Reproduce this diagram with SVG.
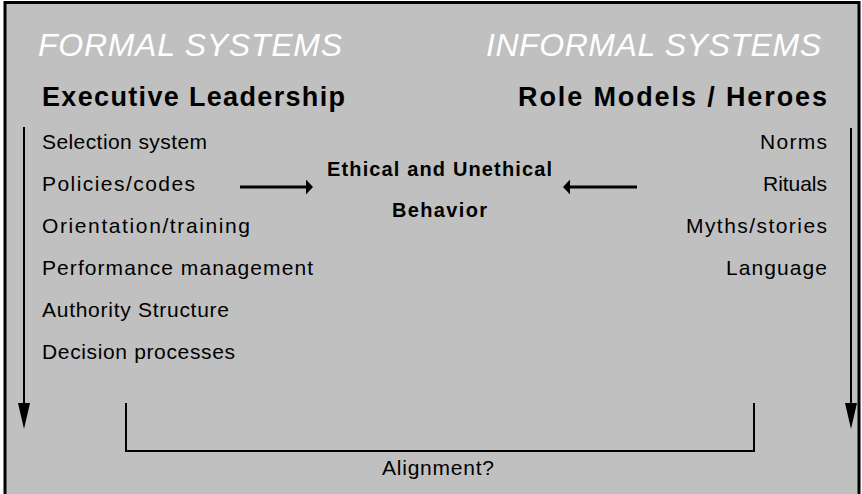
<svg xmlns="http://www.w3.org/2000/svg" width="862" height="494" viewBox="0 0 862 494">
  <defs>
    <marker id="vhead" markerUnits="userSpaceOnUse" markerWidth="26" markerHeight="12" refX="7" refY="6" orient="auto">
      <path d="M0,0 L26,6 L0,12 z" fill="#000"/>
    </marker>
    <marker id="hhead" markerUnits="userSpaceOnUse" markerWidth="7" markerHeight="15" refX="2" refY="7.5" orient="auto">
      <path d="M0,0 L7,7.5 L0,15 z" fill="#000"/>
    </marker>
  </defs>
  <style>
    text { font-family: "Liberation Sans", Arial, sans-serif; fill: #000; }
    .title { font-size: 32px; font-style: italic; fill: #ffffff; }
    .head { font-size: 27px; font-weight: bold; }
    .item { font-size: 21px; }
    .center { font-size: 20px; font-weight: bold; text-anchor: middle; }
    .vline { stroke: #000; stroke-width: 2; fill: none; }
    .hline { stroke: #000; stroke-width: 3; fill: none; }
  </style>
  <rect x="0" y="0" width="862" height="494" fill="#ffffff"/>
  <rect id="frame" x="5" y="2.5" width="854" height="500" fill="#c0c0c0" stroke="#000" stroke-width="3"/>

  <g id="formal">
    <text class="title" x="38" y="56" textLength="304">FORMAL SYSTEMS</text>
    <text class="head" x="42" y="106" textLength="303">Executive Leadership</text>
  </g>
  <g id="informal">
    <text class="title" x="821" y="56" text-anchor="end" textLength="335">INFORMAL SYSTEMS</text>
    <text class="head" x="827" y="106" text-anchor="end" textLength="309">Role Models / Heroes</text>
  </g>

  <g id="formal-list">
    <text class="item" x="42" y="149" textLength="165">Selection system</text>
    <text class="item" x="42" y="191" textLength="153">Policies/codes</text>
    <text class="item" x="42" y="233" textLength="208">Orientation/training</text>
    <text class="item" x="42" y="275" textLength="271">Performance management</text>
    <text class="item" x="42" y="317" textLength="187">Authority Structure</text>
    <text class="item" x="42" y="359" textLength="193">Decision processes</text>
  </g>

  <g id="informal-list">
    <text class="item" x="827" y="149" text-anchor="end" textLength="67">Norms</text>
    <text class="item" x="827" y="191" text-anchor="end" textLength="64">Rituals</text>
    <text class="item" x="827" y="233" text-anchor="end" textLength="141">Myths/stories</text>
    <text class="item" x="827" y="275" text-anchor="end" textLength="101">Language</text>
  </g>

  <g id="behavior">
    <text class="center" x="439.5" y="176" textLength="225">Ethical and Unethical</text>
    <text class="center" x="439.5" y="217" textLength="95">Behavior</text>
  </g>

  <g id="alignment">
    <text class="item" x="438" y="475" text-anchor="middle" textLength="112">Alignment?</text>
  </g>

  <g id="connectors">
    <line class="vline" x1="24" y1="127" x2="24" y2="410" marker-end="url(#vhead)"/>
    <line class="vline" x1="851" y1="128" x2="851" y2="410" marker-end="url(#vhead)"/>
    <line class="hline" x1="240" y1="187" x2="308" y2="187" marker-end="url(#hhead)"/>
    <line class="hline" x1="637" y1="187" x2="568" y2="187" marker-end="url(#hhead)"/>
    <polyline class="vline" points="126,403 126,451 754,451 754,403"/>
  </g>
</svg>
